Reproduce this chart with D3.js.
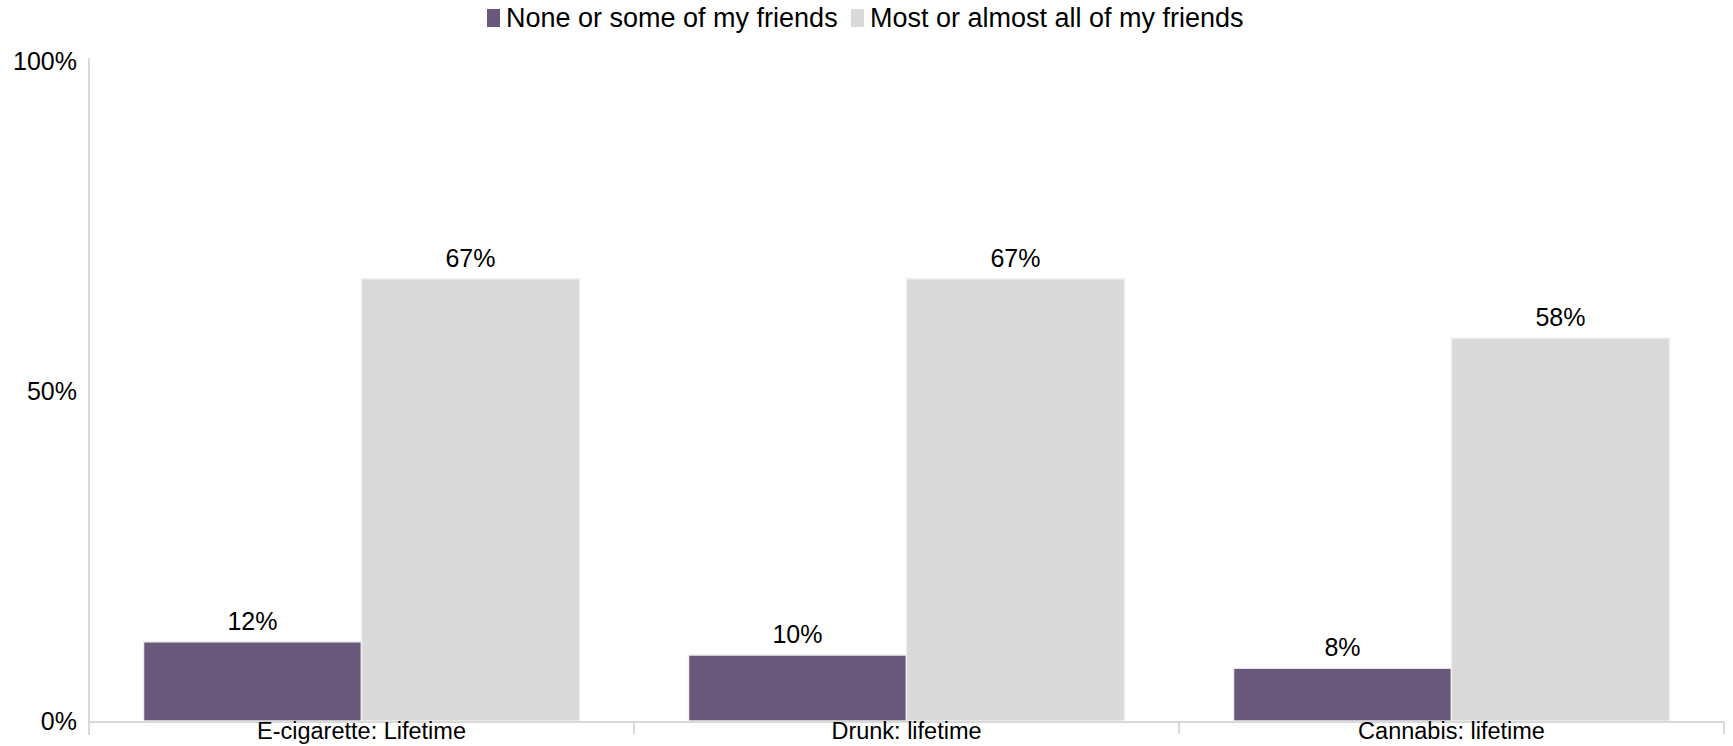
<!DOCTYPE html>
<html>
<head>
<meta charset="utf-8">
<script src="https://cdn.jsdelivr.net/npm/d3@7"></script>
<style>
  html, body { margin: 0; padding: 0; background: #ffffff; }
  svg { display: block; font-family: "Liberation Sans", Arial, sans-serif; }
</style>
</head>
<body>
<svg id="chart" width="1733" height="746"></svg>
<script>
// Share of young people reporting each behaviour, by how many friends do it
const categories = ["E-cigarette: Lifetime", "Drunk: lifetime", "Cannabis: lifetime"];
const seriesNames = ["None or some of my friends", "Most or almost all of my friends"];
const noneOrSome = [12, 10, 8];
const mostOrAll = [67, 67, 58];
const yTicks = [0, 50, 100];
const colors = ["#6a587c", "#d9d9d9"];

const seriesValues = [noneOrSome, mostOrAll];

const width = 1733, height = 746;
const margin = { top: 58, right: 9, bottom: 25, left: 89 };

const svg = d3.select("#chart");

const x0 = d3.scaleBand()
  .domain(categories)
  .range([margin.left, width - margin.right])
  .paddingInner(0)
  .paddingOuter(0);

const x1 = d3.scaleBand()
  .domain(seriesNames)
  .range([0, x0.bandwidth()])
  .paddingInner(0)
  .paddingOuter(0.25);

const y = d3.scaleLinear()
  .domain([0, 100])
  .range([height - margin.bottom, margin.top + 3]);

// Y axis: light rule, percentage labels, no tick marks
const yAxis = svg.append("g")
  .attr("transform", `translate(${margin.left},0)`)
  .call(d3.axisLeft(y).tickValues(yTicks).tickFormat(d => d + "%").tickSize(0).tickPadding(12));
yAxis.select(".domain").remove();
yAxis.selectAll("text")
  .attr("font-size", 25)
  .attr("fill", "#000")
  .attr("font-family", "Liberation Sans, Arial, sans-serif");
svg.append("line")
  .attr("x1", margin.left).attr("x2", margin.left)
  .attr("y1", margin.top).attr("y2", y(0) + 14)
  .attr("stroke", "#d9d9d9").attr("stroke-width", 2);

// Bars
const groups = svg.append("g").selectAll("g")
  .data(categories)
  .join("g")
  .attr("transform", d => `translate(${x0(d)},0)`);

groups.selectAll("rect")
  .data((c, i) => seriesNames.map((s, j) => ({ s, v: seriesValues[j][i], j })))
  .join("rect")
  .attr("x", d => x1(d.s))
  .attr("width", x1.bandwidth())
  .attr("y", d => y(d.v))
  .attr("height", d => y(0) - y(d.v))
  .attr("fill", d => colors[d.j])
  .attr("stroke", "#eeeeee")
  .attr("stroke-width", 1.5);

// Value labels above bars
groups.selectAll("text.value")
  .data((c, i) => seriesNames.map((s, j) => ({ s, v: seriesValues[j][i], j })))
  .join("text")
  .attr("class", "value")
  .attr("x", d => x1(d.s) + x1.bandwidth() / 2)
  .attr("y", d => y(d.v) - 12)
  .attr("text-anchor", "middle")
  .attr("font-size", 25)
  .attr("fill", "#000")
  .text(d => d.v + "%");

// X axis: baseline, category separators and labels
const xAxisY = y(0) + 1;
svg.append("line")
  .attr("x1", margin.left).attr("x2", width - margin.right)
  .attr("y1", xAxisY).attr("y2", xAxisY)
  .attr("stroke", "#d9d9d9").attr("stroke-width", 2);
const sepX = categories.map(c => x0(c)).concat([x0.range()[1]]);
svg.append("g").selectAll("line")
  .data(sepX)
  .join("line")
  .attr("x1", d => d).attr("x2", d => d)
  .attr("y1", xAxisY).attr("y2", xAxisY + 12)
  .attr("stroke", "#d9d9d9").attr("stroke-width", 2);
svg.append("g").selectAll("text")
  .data(categories)
  .join("text")
  .attr("x", d => x0(d) + x0.bandwidth() / 2)
  .attr("y", xAxisY + 17)
  .attr("text-anchor", "middle")
  .attr("font-size", 23.5)
  .attr("fill", "#000")
  .text(d => d);

// Legend
const legend = svg.append("g").attr("transform", "translate(0,18)");
const legendItems = [
  { name: seriesNames[0], color: colors[0], x: 487 },
  { name: seriesNames[1], color: colors[1], x: 851 }
];
legendItems.forEach(it => {
  legend.append("rect")
    .attr("x", it.x).attr("y", -9)
    .attr("width", 13).attr("height", 18)
    .attr("fill", it.color);
  legend.append("text")
    .attr("x", it.x + 19).attr("y", 0)
    .attr("dy", "0.35em")
    .attr("font-size", 27)
    .attr("fill", "#000")
    .text(it.name);
});
</script>
</body>
</html>
